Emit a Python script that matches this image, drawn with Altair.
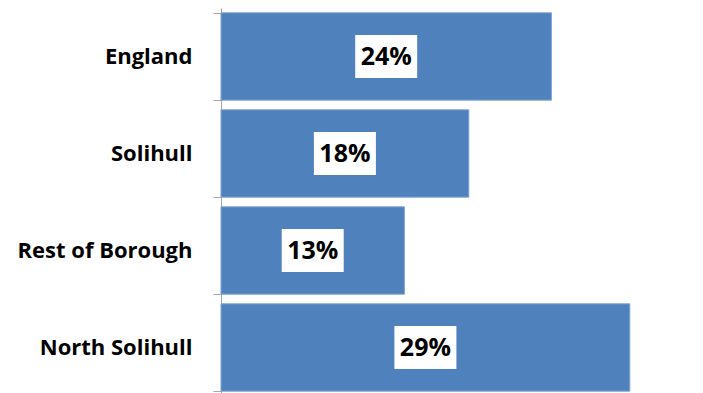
import altair as alt
import pandas as pd

categories = ["England", "Solihull", "Rest of Borough", "North Solihull"]
values = [0.236, 0.177, 0.131, 0.292]
labels = ["24%", "18%", "13%", "29%"]

df = pd.DataFrame({"area": categories, "value": values, "label": labels})

FONT = "Open Sans"
y_enc = alt.Y(
    "area:N",
    sort=categories,
    title=None,
    scale=alt.Scale(paddingInner=0.1, paddingOuter=0.05),
    axis=alt.Axis(
        labelFont=FONT,
        labelFontSize=22,
        labelFontWeight="bold",
        labelColor="#000000",
        labelPadding=21,
        tickBand="extent",
        tickSize=8,
        tickColor="#A6A6A6",
        domainColor="#A6A6A6",
        grid=False,
        labelLimit=300,
    ),
)
x_scale = alt.Scale(domain=[0, 0.33], nice=False)

bars = alt.Chart(df).mark_bar(color="#4F81BD", stroke="#7FA3D1", strokeWidth=1).encode(
    x=alt.X("value:Q", scale=x_scale, axis=None),
    y=y_enc,
)

boxes = alt.Chart(df).transform_calculate(mid="datum.value / 2").mark_bar(
    color="white", height=43, xOffset=-31, x2Offset=31
).encode(
    x=alt.X("mid:Q", scale=x_scale, axis=None),
    x2="mid:Q",
    y=alt.Y("area:N", sort=categories),
)

texts = alt.Chart(df).transform_calculate(mid="datum.value / 2").mark_text(
    font=FONT, fontSize=25, fontWeight="bold", color="black", baseline="middle", align="center"
).encode(
    x=alt.X("mid:Q", scale=x_scale, axis=None),
    y=alt.Y("area:N", sort=categories),
    text="label:N",
)

chart = alt.layer(bars, boxes, texts).properties(
    width=462,
    height=388,
    autosize=alt.AutoSizeParams(type="none"),
    padding={"left": 213, "top": 0, "right": 0, "bottom": 0},
).configure_view(stroke=None)

chart.save("out.html", embed_options={"renderer": "svg", "actions": False})
